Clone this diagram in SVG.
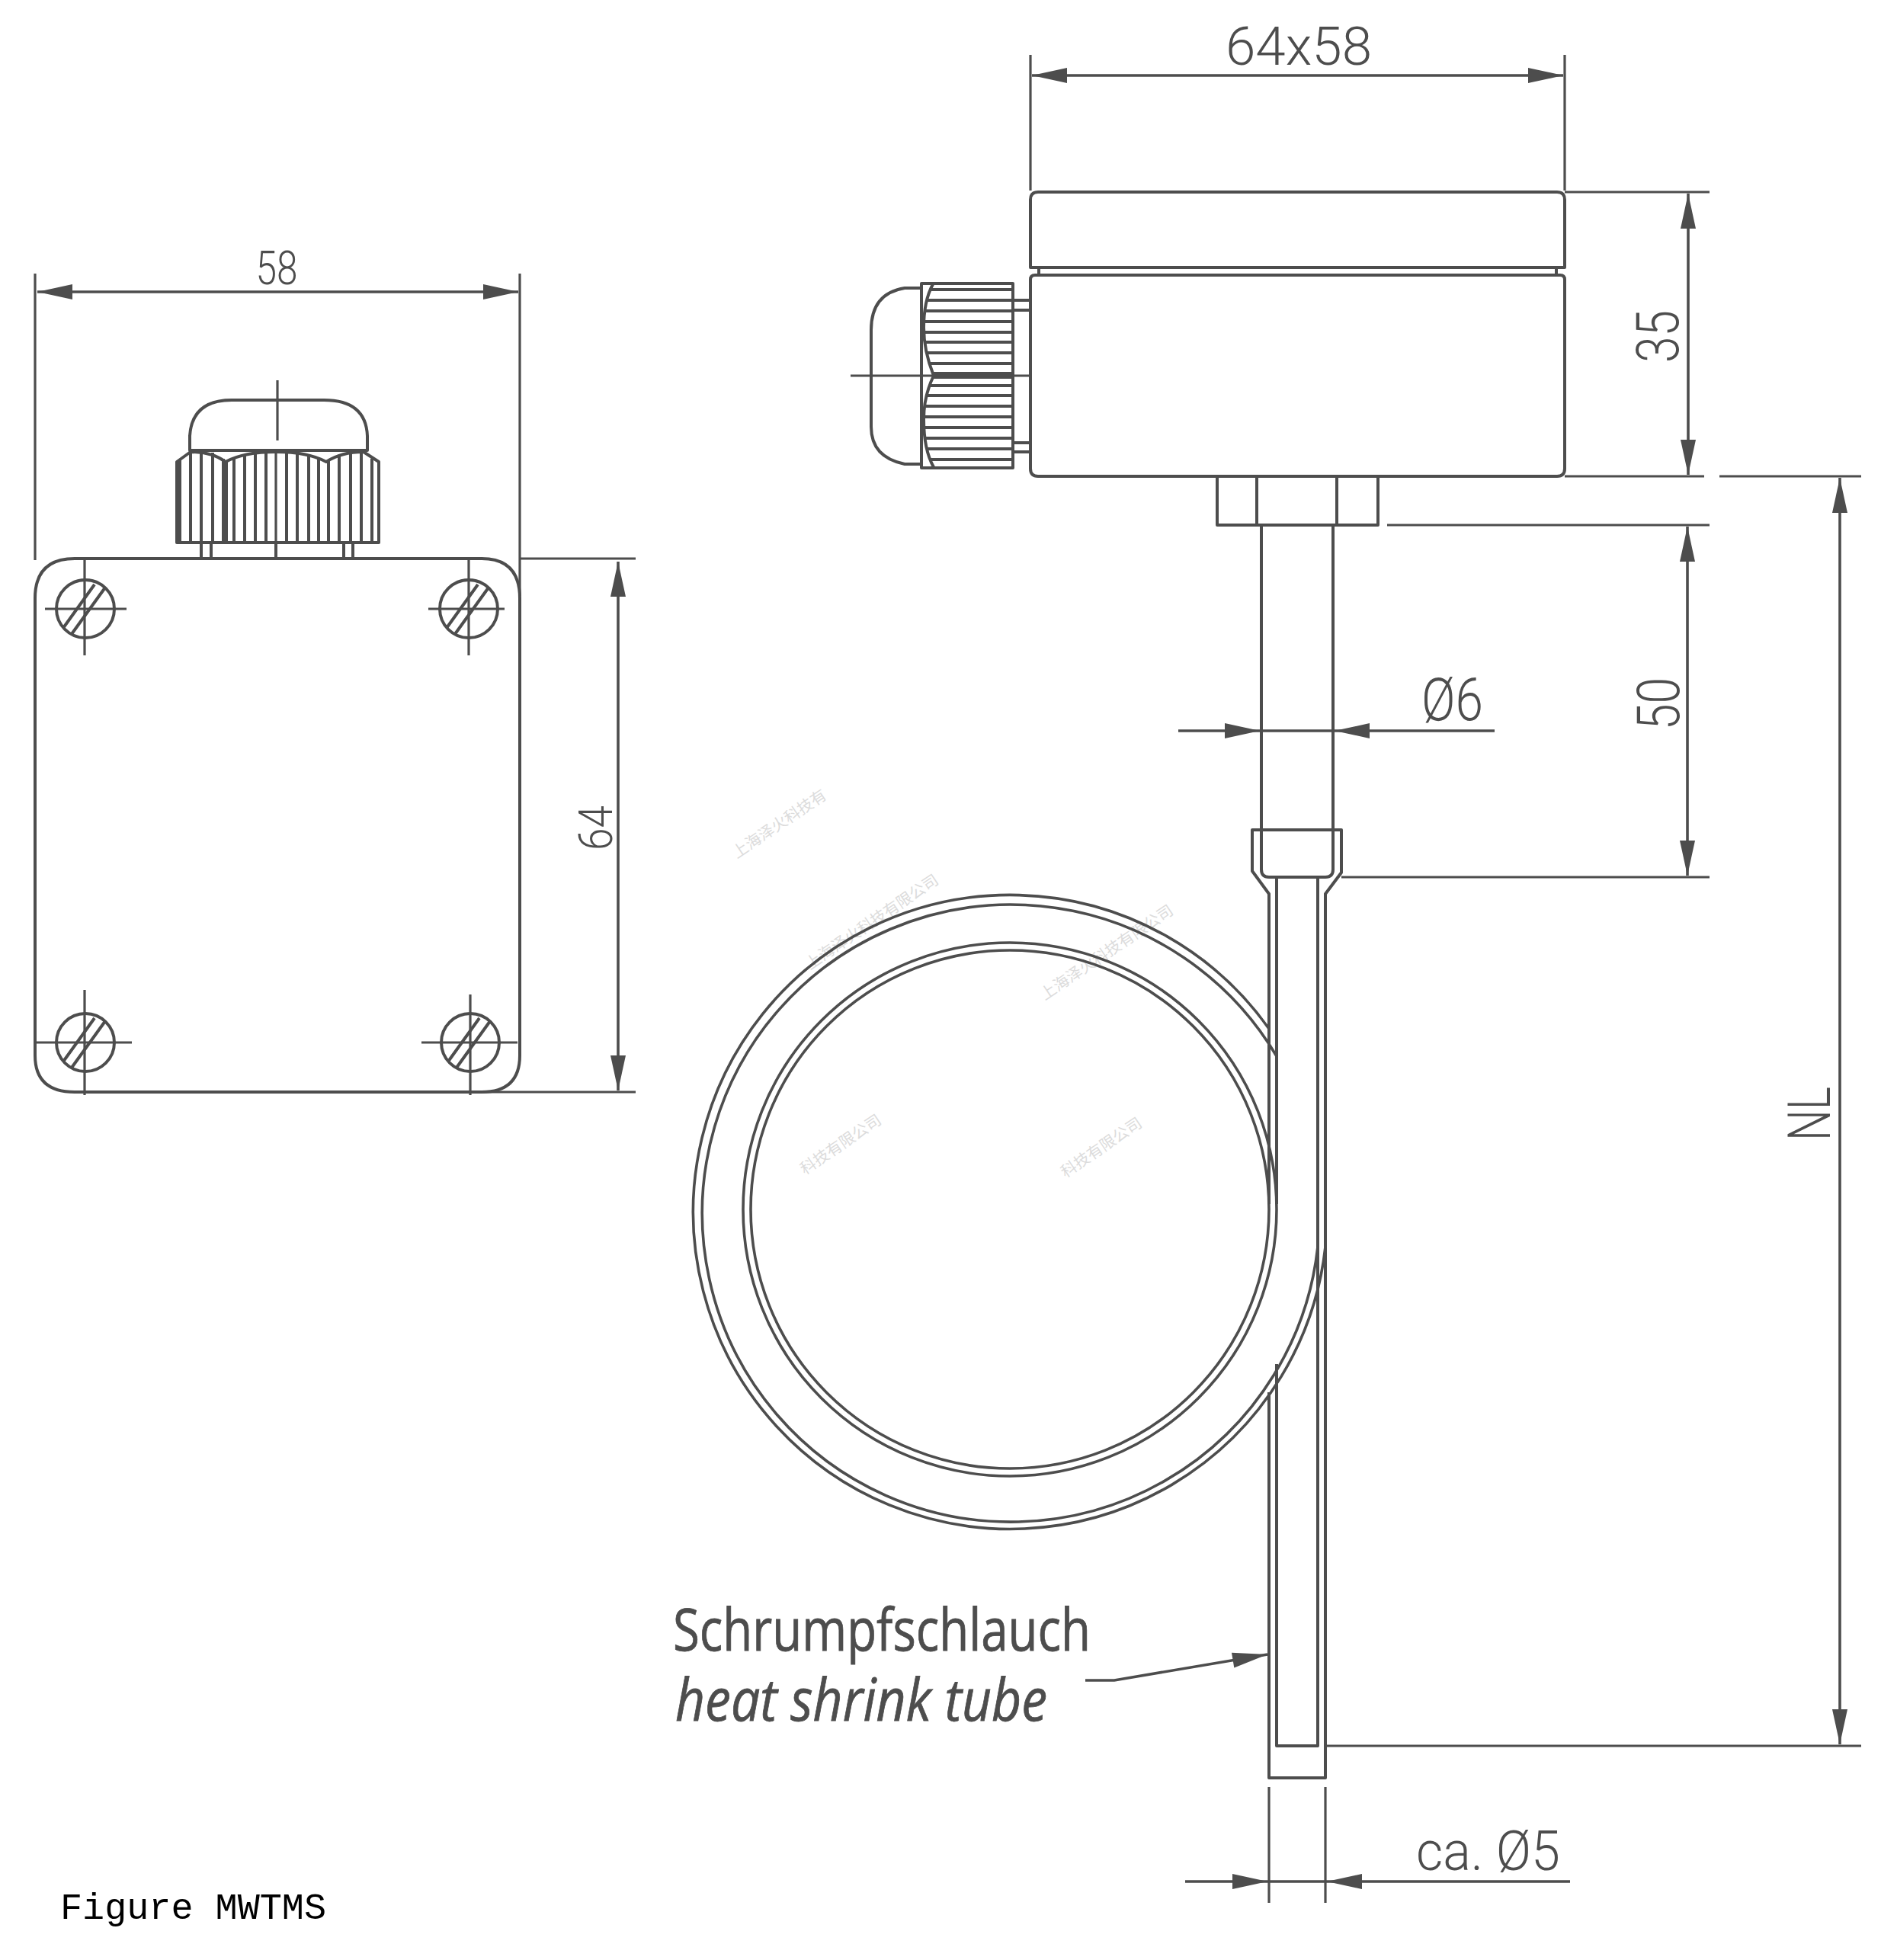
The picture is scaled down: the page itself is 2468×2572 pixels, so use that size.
<svg xmlns="http://www.w3.org/2000/svg" width="2468" height="2572" viewBox="0 0 2468 2572">
<style>
.l{fill:none;stroke:#4d4d4d;stroke-width:4;stroke-linejoin:round}
.t{stroke-width:3.600}
.c{fill:none;stroke:#4d4d4d;stroke-width:3.2}
.d{fill:none;stroke:#4d4d4d;stroke-width:3.6}
.n{font-family:Roboto,"Liberation Sans",sans-serif;font-weight:300;fill:#4d4d4d}
.s{font-family:"Open Sans","Noto Sans",sans-serif;fill:#4d4d4d;stroke:#4d4d4d;stroke-width:.8;font-size:76px}
.w{font-family:"Noto Sans CJK SC",sans-serif;fill:#dcdcdc;font-size:20.500px}
</style>
<defs>
<marker id="a" markerUnits="userSpaceOnUse" markerWidth="50" markerHeight="24" refX="46" refY="12" orient="auto" overflow="visible"><path d="M46 12L0 2V22Z" fill="#4d4d4d"/></marker>
<g id="screw"><ellipse cx="0" cy="0" rx="38" ry="38" class="l"/><path class="l" d="M-29 25L12-32M-18 33L26-28"/></g>
</defs>
<rect width="2468" height="2572" fill="#fff"/>
<g id="watermarks">
<text class="w" transform="translate(967 1127) rotate(-34)">上海泽火科技有</text>
<text class="w" transform="translate(1063 1273) rotate(-34)">上海泽火科技有限公司</text>
<text class="w" transform="translate(1371 1313) rotate(-34)">上海泽火科技有限公司</text>
<text class="w" transform="translate(1056 1542) rotate(-34)">科技有限公司</text>
<text class="w" transform="translate(1398 1546) rotate(-34)">科技有限公司</text>
</g>
<g id="front-view">
<path class="l" d="M46 785Q46 733 98 733H632Q682 733 682 785V1385Q682 1433 632 1433H98Q46 1433 46 1385Z"/>
<path class="l" d="M249 591V572Q252 525 304 525H425Q480 525 482 572V591ZM232 606L250 593Q278 593 296 606Q320 593 362 593Q404 593 428 606Q448 593 477 593L497 606V712H232Z"/>
<path class="l" stroke-width="3" d="M236 603V712M250 594V712M264 594V712M279 594V712M293 602V712M297 604V712M307 600V712M321 596V712M335 594V712M349 594V712M376 594V712M390 594V712M405 596V712M418 600V712M431 604V712M445 598V712M460 594V712M474 594V712M488 602V712"/>
<path class="l" d="M264 712V733M277 712V733M451 712V733M463 712V733M362 712V733"/>
<path class="c" d="M364 499V578M362 594V712"/>
<use href="#screw" x="112" y="799"/><use href="#screw" x="615" y="799"/><use href="#screw" x="112" y="1368"/><use href="#screw" x="617" y="1368"/>
<path class="c" d="M111 735V860M59 799H166M615 735V860M562 799H662M111 1299V1437M48 1368H173M617 1305V1437M553 1368H679"/>
</g>
<g id="side-view">
<path class="l" d="M1352 351V262Q1352 252 1362 252H2043Q2053 252 2053 262V351Z"/>
<path class="l" d="M1363 351V361M2042 351V361"/>
<path class="l" d="M1352 367Q1352 361 1358 361H2047Q2053 361 2053 367V615Q2053 625 2043 625H1362Q1352 625 1352 615Z"/>
<path class="l" d="M1209 372H1329V614H1209ZM1209 378H1187Q1143 385 1143 433V560Q1143 600 1187 609H1209"/>
<path class="l" d="M1224 373Q1212 395 1212 430Q1212 460 1225 493Q1212 520 1212 550Q1212 590 1225 613"/>
<path class="l" stroke-width="3" d="M1222 380H1329M1215 394H1329M1212 408H1329M1212 422H1329M1212 436H1329M1213 449H1329M1215 463H1329M1219 477H1329M1224 490H1329M1224 495H1329M1219 506H1329M1214 519H1329M1212 533H1329M1212 547H1329M1212 561H1329M1213 575H1329M1216 589H1329M1221 603H1329"/>
<path class="l" d="M1329 394H1352M1329 407H1352M1329 581H1352M1329 593H1352"/>
<path class="c" d="M1116 493H1352"/>
<path class="l" d="M1597 625V689H1808V625M1649 625V689M1754 625V689"/>
<path class="l" d="M1655 689V1141Q1655 1151 1665 1151H1739Q1749 1151 1749 1141V689"/>
<path class="l" d="M1655 1089H1643V1143L1665 1173V1580M1749 1089H1760V1145L1739 1173V2333H1665V1827M1643 1089H1760"/>
<path class="l" d="M1675 1151V1580M1729 1151V2291H1675V1790"/>
</g>
<g id="capillary-coil">
<path class="l t" d="M1665 1350A416 416 0 1 0 1739 1636"/>
<path class="l t" d="M1675 1386A405 405 0 1 0 1729 1636"/>
<circle class="l t" cx="1325" cy="1587" r="350"/>
<circle class="l t" cx="1325" cy="1587" r="340"/>
</g>
<g id="connectors">
<path class="c" d="M46 359V735M682 359V782M1352 72V250M2053 72V250M682 733H834M632 1433H834M2053 252H2243M2053 625H2236M2256 625H2442M1820 689H2243M1760 1151H2243M1739 2291H2442M1665 2345V2497M1739 2345V2497"/>
<path class="d" marker-end="url(#a)" d="M364 383H49"/><path class="d" marker-end="url(#a)" d="M364 383H680"/>
<path class="d" marker-end="url(#a)" d="M811 1086V737"/><path class="d" marker-end="url(#a)" d="M811 1086V1431"/>
<path class="d" marker-end="url(#a)" d="M1705 99H1354"/><path class="d" marker-end="url(#a)" d="M1705 99H2051"/>
<path class="d" marker-end="url(#a)" d="M2215 440V254"/><path class="d" marker-end="url(#a)" d="M2215 440V623"/>
<path class="d" marker-end="url(#a)" d="M2214 920V691"/><path class="d" marker-end="url(#a)" d="M2214 920V1149"/>
<path class="d" marker-end="url(#a)" d="M2414 1460V627"/><path class="d" marker-end="url(#a)" d="M2414 1460V2289"/>
<path class="d" marker-end="url(#a)" d="M1546 959H1653"/><path class="d" marker-end="url(#a)" d="M1961 959H1751"/><path class="d" d="M1653 959H1751"/>
<path class="d" marker-end="url(#a)" d="M1555 2469H1663"/><path class="d" marker-end="url(#a)" d="M2060 2469H1741"/><path class="d" d="M1663 2469H1741"/>
<path class="d" marker-end="url(#a)" d="M1424 2205H1462L1663 2171"/>
</g>
<g id="labels">
<text class="n" font-size="62" text-anchor="middle" x="363" y="373" textLength="55" lengthAdjust="spacingAndGlyphs">58</text>
<text class="n" font-size="70" x="1608" y="85" textLength="192" lengthAdjust="spacingAndGlyphs">64x58</text>
<text class="n" font-size="62" transform="translate(803 1116) rotate(-90)" textLength="59" lengthAdjust="spacingAndGlyphs">64</text>
<text class="n" font-size="78" transform="translate(2202 476) rotate(-90)" textLength="69" lengthAdjust="spacingAndGlyphs">35</text>
<text class="n" font-size="78" transform="translate(2203 958) rotate(-90)" textLength="69" lengthAdjust="spacingAndGlyphs">50</text>
<text class="n" font-size="78" transform="translate(2401 1497) rotate(-90)" textLength="71" lengthAdjust="spacingAndGlyphs">NL</text>
<text class="n" font-size="78" x="1865" y="945" textLength="81" lengthAdjust="spacingAndGlyphs">Ø6</text>
<text class="n" font-size="72" x="1858" y="2454" textLength="189" lengthAdjust="spacingAndGlyphs">ca. Ø5</text>
<text class="s" x="883" y="2166" textLength="548" lengthAdjust="spacingAndGlyphs">Schrumpfschlauch</text>
<text class="s" font-style="italic" x="886" y="2258" textLength="488" lengthAdjust="spacingAndGlyphs">heat shrink tube</text>
<text x="79" y="2518" font-family="Liberation Mono,monospace" font-size="48" fill="#000" textLength="349" lengthAdjust="spacingAndGlyphs">Figure MWTMS</text>
</g>
</svg>
